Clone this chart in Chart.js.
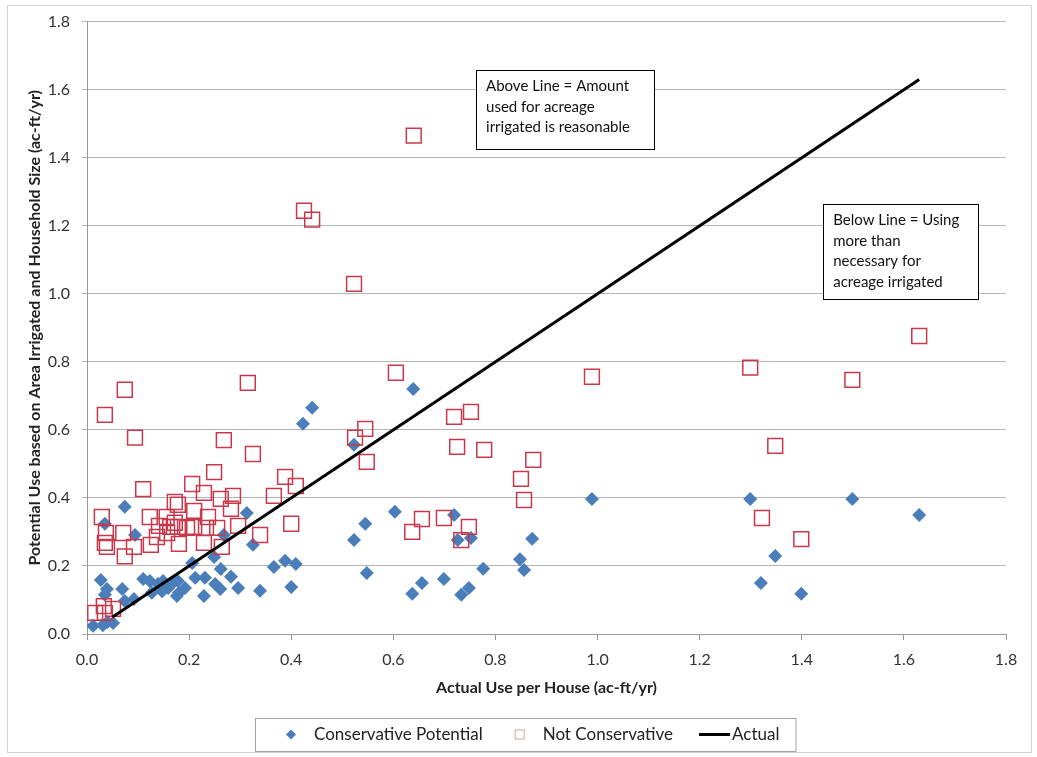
<!DOCTYPE html>
<html>
<head>
<meta charset="utf-8">
<script src="https://cdn.jsdelivr.net/npm/chart.js@4.4.1/dist/chart.umd.min.js"></script>
<style>
  html, body { margin: 0; padding: 0; background: #fff; }
  #wrap { width: 1037px; height: 757px; }
</style>
</head>
<body>
<div id="wrap"><canvas id="chart" width="1037" height="757"></canvas></div>
<script>
// Conservative Potential (blue diamonds)
const consX = [1.299, 1.499, 1.630, 1.348, 1.320, 1.399, 0.989, 0.639, 0.441, 0.423,
               0.523, 0.603, 0.545, 0.523, 0.719, 0.726, 0.752, 0.872, 0.388, 0.409,
               0.848, 0.776, 0.856, 0.548, 0.400, 0.656, 0.699, 0.637, 0.748, 0.733,
               0.074, 0.313, 0.035, 0.094, 0.268, 0.325, 0.206, 0.249, 0.366, 0.027,
               0.110, 0.262, 0.282, 0.069, 0.039, 0.035, 0.127, 0.092, 0.074, 0.180,
               0.229, 0.339, 0.296, 0.123, 0.139, 0.149, 0.159, 0.168, 0.178, 0.176,
               0.192, 0.212, 0.147, 0.231, 0.251, 0.261, 0.012, 0.031, 0.051, 0.040];
const consY = [0.397, 0.397, 0.350, 0.229, 0.150, 0.118, 0.397, 0.720, 0.665, 0.618,
               0.556, 0.359, 0.324, 0.276, 0.350, 0.276, 0.282, 0.280, 0.215, 0.206,
               0.220, 0.192, 0.188, 0.179, 0.138, 0.150, 0.162, 0.118, 0.135, 0.115,
               0.374, 0.356, 0.324, 0.291, 0.291, 0.262, 0.209, 0.226, 0.197, 0.159,
               0.162, 0.191, 0.168, 0.132, 0.132, 0.115, 0.121, 0.103, 0.097, 0.121,
               0.112, 0.127, 0.135, 0.156, 0.147, 0.156, 0.135, 0.150, 0.156, 0.112,
               0.135, 0.165, 0.126, 0.165, 0.147, 0.132, 0.024, 0.026, 0.032, 0.035];

// Not Conservative (red hollow squares)
const notX = [0.640, 0.425, 0.441, 0.523, 1.630, 0.605, 0.989, 1.299, 1.499, 1.348,
              1.322, 1.399, 0.315, 0.074, 0.035, 0.094, 0.268, 0.325, 0.249, 0.388,
              0.409, 0.206, 0.110, 0.229, 0.286, 0.366, 0.262, 0.172, 0.178, 0.282,
              0.210, 0.029, 0.123, 0.156, 0.237, 0.172, 0.400, 0.141, 0.163, 0.178,
              0.196, 0.210, 0.233, 0.255, 0.296, 0.037, 0.071, 0.157, 0.339, 0.137,
              0.035, 0.039, 0.092, 0.125, 0.180, 0.229, 0.264, 0.074, 0.016, 0.033,
              0.035, 0.051, 0.719, 0.752, 0.545, 0.525, 0.548, 0.725, 0.778, 0.874,
              0.850, 0.856, 0.656, 0.637, 0.699, 0.748, 0.733];
const notY = [1.465, 1.244, 1.218, 1.029, 0.876, 0.768, 0.756, 0.783, 0.747, 0.553,
              0.341, 0.279, 0.738, 0.718, 0.644, 0.577, 0.570, 0.529, 0.476, 0.462,
              0.435, 0.441, 0.426, 0.415, 0.406, 0.406, 0.397, 0.388, 0.380, 0.368,
              0.362, 0.344, 0.344, 0.344, 0.344, 0.327, 0.324, 0.318, 0.315, 0.315,
              0.312, 0.315, 0.312, 0.312, 0.318, 0.297, 0.297, 0.297, 0.291, 0.285,
              0.268, 0.256, 0.256, 0.262, 0.265, 0.268, 0.256, 0.228, 0.062, 0.082,
              0.062, 0.074, 0.638, 0.653, 0.603, 0.577, 0.506, 0.550, 0.541, 0.512,
              0.456, 0.394, 0.338, 0.300, 0.341, 0.315, 0.276];

// Actual (1:1 line)
const actualX = [0.05, 1.63];
const actualY = [0.05, 1.63];

const seriesNames = ['Conservative Potential', 'Not Conservative', 'Actual'];

const noteAbove = ['Above Line = Amount', 'used for acreage', 'irrigated is reasonable'];
const noteBelow = ['Below Line = Using', 'more than', 'necessary for', 'acreage irrigated'];

const toPoints = (xs, ys) => xs.map((x, i) => ({ x: x, y: ys[i] }));

const FONT = 'Lato, "Open Sans", sans-serif';
const BLUE = '#4a7ebb';
const RED = '#c9384a';

// text boxes, placed in data units
const notes = [
  { lines: noteAbove, x0: 0.762, x1: 1.111, y0: 1.659, y1: 1.426 },
  { lines: noteBelow, x0: 1.442, x1: 1.745, y0: 1.265, y1: 0.985 }
];

const notesPlugin = {
  id: 'notes',
  afterDatasetsDraw(chart) {
    const { ctx, scales: { x, y } } = chart;
    ctx.save();
    ctx.font = '15px ' + FONT;
    ctx.textBaseline = 'middle';
    notes.forEach(n => {
      const l = x.getPixelForValue(n.x0), r = x.getPixelForValue(n.x1);
      const t = y.getPixelForValue(n.y0), b = y.getPixelForValue(n.y1);
      ctx.fillStyle = '#fff';
      ctx.fillRect(l, t, r - l, b - t);
      ctx.strokeStyle = '#000';
      ctx.lineWidth = 1;
      ctx.strokeRect(Math.round(l) + 0.5, Math.round(t) + 0.5, Math.round(r - l), Math.round(b - t));
      ctx.fillStyle = '#111';
      n.lines.forEach((s, i) => ctx.fillText(s, l + 10, t + 17 + i * 20.5));
    });
    ctx.restore();
  }
};

// legend in a framed box under the axis title, plus the outer chart frame
const legendPlugin = {
  id: 'boxLegend',
  afterDraw(chart) {
    const ctx = chart.ctx;
    const ds = chart.data.datasets;
    const left = 255, top = 718, h = 33, cy = top + h / 2;
    ctx.save();
    ctx.strokeStyle = '#d4d4d4';
    ctx.lineWidth = 1;
    ctx.strokeRect(7.5, 5.5, 1024, 747);

    ctx.font = '17px ' + FONT;
    ctx.textBaseline = 'middle';
    let xx = left + 36;
    // diamond
    ctx.fillStyle = ds[0].backgroundColor;
    ctx.beginPath();
    ctx.moveTo(xx, cy - 5); ctx.lineTo(xx + 5, cy); ctx.lineTo(xx, cy + 5); ctx.lineTo(xx - 5, cy);
    ctx.closePath(); ctx.fill();
    ctx.fillStyle = '#222';
    ctx.fillText(ds[0].label, xx + 23, cy);
    xx = xx + 23 + ctx.measureText(ds[0].label).width + 37;
    // square
    ctx.strokeStyle = '#c8a8a8';
    ctx.lineWidth = 1;
    ctx.strokeRect(xx - 4.5, cy - 4.5, 9, 9);
    ctx.fillStyle = '#222';
    ctx.fillText(ds[1].label, xx + 23, cy);
    xx = xx + 23 + ctx.measureText(ds[1].label).width + 26;
    // line
    ctx.strokeStyle = ds[2].borderColor;
    ctx.lineWidth = 3;
    ctx.beginPath(); ctx.moveTo(xx, cy); ctx.lineTo(xx + 31, cy); ctx.stroke();
    ctx.fillStyle = '#222';
    ctx.fillText(ds[2].label, xx + 33, cy);
    const right = xx + 33 + ctx.measureText(ds[2].label).width + 16;
    ctx.strokeStyle = '#a6a6a6';
    ctx.lineWidth = 1;
    ctx.strokeRect(left + 0.5, top + 0.5, right - left, h);
    ctx.restore();
  }
};

new Chart(document.getElementById('chart'), {
  type: 'scatter',
  data: {
    datasets: [
      {
        label: seriesNames[0],
        data: toPoints(consX, consY),
        pointStyle: 'rectRot',
        pointRadius: 7,
        pointHoverRadius: 7,
        backgroundColor: BLUE,
        borderColor: BLUE,
        borderWidth: 0,
        order: 3
      },
      {
        label: seriesNames[1],
        data: toPoints(notX, notY),
        pointStyle: 'rect',
        pointRadius: 10.5,
        pointHoverRadius: 10.5,
        backgroundColor: 'rgba(0,0,0,0)',
        borderColor: RED,
        borderWidth: 1.5,
        order: 2
      },
      {
        label: seriesNames[2],
        type: 'line',
        data: toPoints(actualX, actualY),
        borderColor: '#000',
        backgroundColor: '#000',
        borderWidth: 3,
        pointRadius: 0,
        showLine: true,
        fill: false,
        order: 1
      }
    ]
  },
  options: {
    responsive: false,
    animation: false,
    devicePixelRatio: 1,
    layout: { padding: { left: 0, right: 31, top: 21, bottom: 60 } },
    plugins: {
      legend: { display: false },
      tooltip: { enabled: false }
    },
    scales: {
      x: {
        type: 'linear',
        min: 0,
        max: 1.8,
        ticks: {
          stepSize: 0.2,
          callback: v => v.toFixed(1),
          font: { family: FONT, size: 16 },
          color: '#333',
          padding: 10
        },
        grid: { drawOnChartArea: false, drawTicks: true, tickLength: 6, color: '#9a9a9a' },
        border: { color: '#9a9a9a' },
        title: {
          display: true,
          text: 'Actual Use per House (ac-ft/yr)',
          font: { family: FONT, size: 16, weight: 'bold' },
          color: '#222',
          padding: { top: 0, bottom: 0 }
        },
        afterFit: s => { s.height = 63; }
      },
      y: {
        type: 'linear',
        min: 0,
        max: 1.8,
        ticks: {
          stepSize: 0.2,
          callback: v => v.toFixed(1),
          font: { family: FONT, size: 16 },
          color: '#333',
          padding: 12
        },
        grid: { color: '#b4b4b4', tickLength: 5 },
        border: { color: '#9a9a9a' },
        title: {
          display: true,
          text: 'Potential Use based on Area Irrigated and Household Size (ac-ft/yr)',
          font: { family: FONT, size: 16, weight: 'bold' },
          color: '#222',
          padding: { top: 25, bottom: 0 }
        },
        afterFit: s => { s.width = 87; }
      }
    }
  },
  plugins: [notesPlugin, legendPlugin]
});
</script>
</body>
</html>
